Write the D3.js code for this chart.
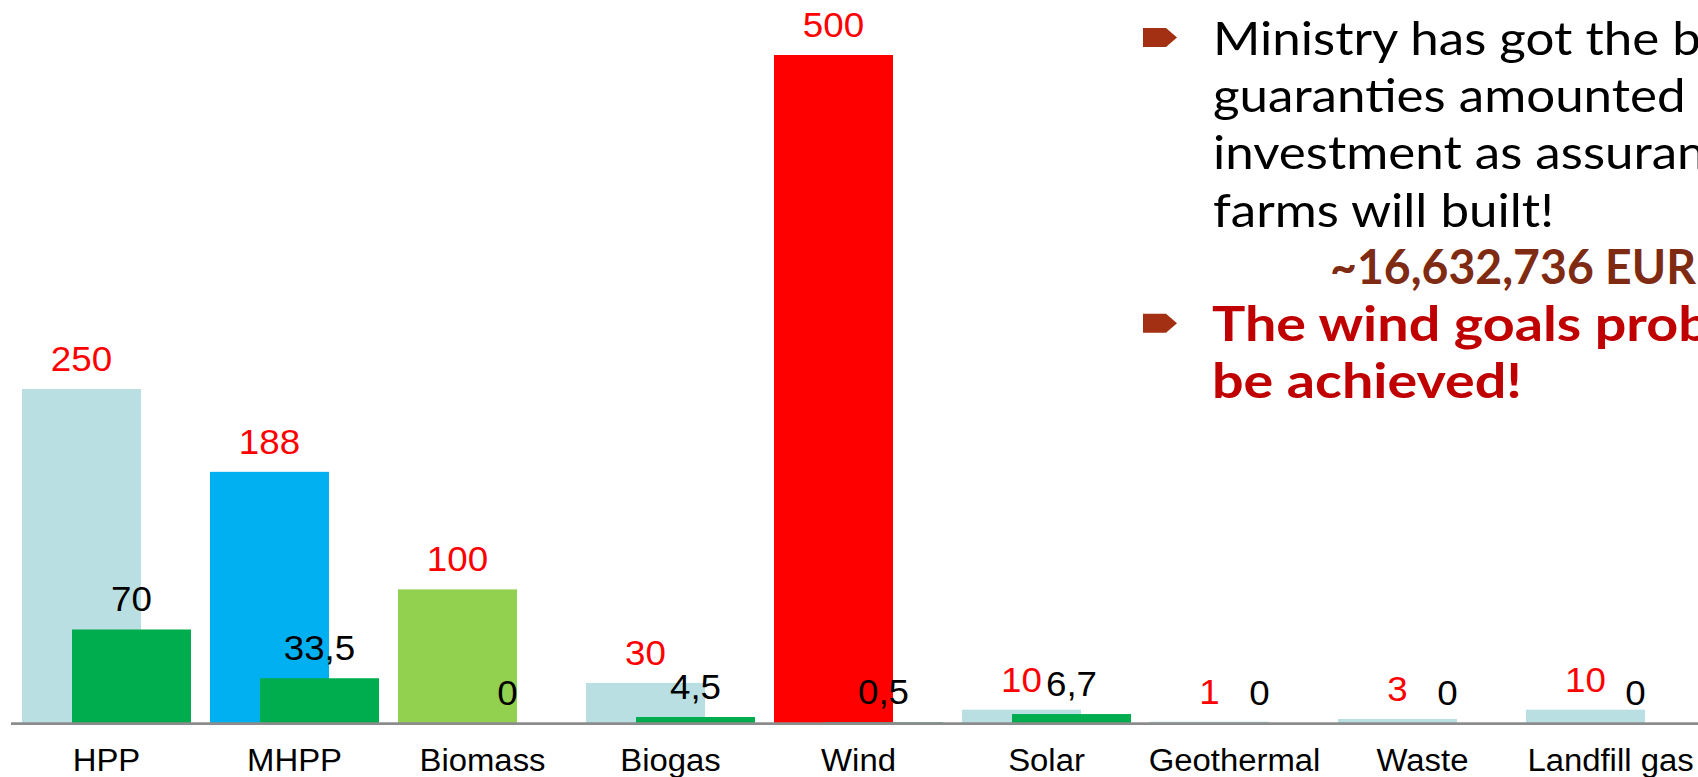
<!DOCTYPE html>
<html>
<head>
<meta charset="utf-8">
<script src="https://cdn.jsdelivr.net/npm/d3@7"></script>
<style>
  html, body { margin: 0; padding: 0; background: #ffffff; overflow: hidden; }
  svg { display: block; }
</style>
</head>
<body>
<svg id="chart" width="1698" height="777"></svg>
<script>
// Renewable capacity by technology: planned target vs. achieved (MW)
const categories = ["HPP", "MHPP", "Biomass", "Biogas", "Wind", "Solar", "Geothermal", "Waste", "Landfill gas"];
const planned    = [250, 188, 100, 30, 500, 10, 1, 3, 10];
const achieved   = [70, 33.5, 0, 4.5, 0.5, 6.7, 0, 0, 0];
const seriesKeys = ["planned", "achieved"];

// Bullet points shown beside the chart
const noteLines = [
  { bullet: true,  text: "Ministry has got the bank", kind: "body" },
  { bullet: false, text: "guaranties amounted", kind: "body" },
  { bullet: false, text: "investment as assurance", kind: "body" },
  { bullet: false, text: "farms will built!", kind: "body" },
  { bullet: false, text: "~16,632,736 EUR", kind: "amount" },
  { bullet: true,  text: "The wind goals probably", kind: "alert" },
  { bullet: false, text: "be achieved!", kind: "alert" }
];

const W = 1698, H = 777;
const svg = d3.select("#chart");

// Highlighted planned bars; the rest use the pale default
const plannedColor = d3.scaleOrdinal()
  .domain(["MHPP", "Biomass", "Wind"])
  .range(["#00B0F0", "#92D050", "#FF0000"])
  .unknown("#BADFE2");
const achievedColor = "#00AD4E";

const rows = categories.map((c, i) => ({ cat: c, planned: planned[i], achieved: achieved[i] }));

// Scales
const step = 188, gap = 19, left = 22;
const x = d3.scaleBand()
  .domain(categories)
  .range([left, left + categories.length * step - gap])
  .paddingInner(gap / step)
  .paddingOuter(0);
const barW = 119;
const xSub = d3.scalePoint().domain(seriesKeys).range([0, x.bandwidth() - barW]);
const y = d3.scaleLinear().domain([0, 500]).range([723, 55]);

const locale = d3.formatLocale({ decimal: ",", thousands: ".", grouping: [3], currency: ["", ""] });
const fmt = locale.format("~g");

const chartFont = "'Liberation Sans', Arial, sans-serif";
const stretch = 1.05;

// Bars
const groups = svg.append("g").selectAll("g")
  .data(rows).join("g")
  .attr("transform", d => `translate(${x(d.cat)},0)`);

groups.append("rect")
  .attr("x", xSub("planned"))
  .attr("y", d => y(d.planned))
  .attr("width", barW)
  .attr("height", d => y(0) - y(d.planned))
  .attr("fill", d => plannedColor(d.cat));

groups.append("rect")
  .attr("x", xSub("achieved"))
  .attr("y", d => y(d.achieved))
  .attr("width", barW)
  .attr("height", d => y(0) - y(d.achieved))
  .attr("fill", achievedColor);

// Baseline
svg.append("line")
  .attr("x1", 11).attr("x2", W)
  .attr("y1", y(0) + 0.6).attr("y2", y(0) + 0.6)
  .attr("stroke", "#8C8C8C").attr("stroke-width", 2.6);

// Value labels
groups.append("text")
  .attr("transform", d => `translate(${xSub("planned") + barW / 2},${y(d.planned) - 18}) scale(${stretch},1)`)
  .attr("text-anchor", "middle")
  .attr("font-family", chartFont)
  .attr("font-size", 35)
  .attr("fill", "#FF0000")
  .text(d => fmt(d.planned));

groups.append("text")
  .attr("transform", d => `translate(${xSub("achieved") + barW / 2},${y(d.achieved) - 18}) scale(${stretch},1)`)
  .attr("text-anchor", "middle")
  .attr("font-family", chartFont)
  .attr("font-size", 35)
  .attr("fill", "#000000")
  .text(d => fmt(d.achieved));

// Category axis
const xAxis = d3.axisBottom(x).tickSize(0).tickPadding(0);
const axisG = svg.append("g")
  .attr("transform", `translate(0,${y(0)})`)
  .call(xAxis);
axisG.select(".domain").remove();
axisG.selectAll(".tick text")
  .attr("y", 0)
  .attr("dy", null)
  .attr("transform", `translate(0,48) scale(${stretch * 1.01},1)`)
  .attr("font-family", chartFont)
  .attr("font-size", 31)
  .attr("fill", "#000000");

// Notes
const noteFont = "Lato, 'Open Sans', sans-serif";
const noteStyle = {
  body:   { weight: 400, color: "#000000", x: 1213 },
  amount: { weight: 700, color: "#7F2A12", x: 1330 },
  alert:  { weight: 700, color: "#C00000", x: 1212 }
};
const lineY = d3.scaleLinear().domain([0, noteLines.length - 1]).range([55, 398]);

const notes = svg.append("g");
const noteText = notes.selectAll("text")
  .data(noteLines).join("text")
  .attr("font-family", noteFont)
  .attr("font-size", 47)
  .attr("font-weight", d => noteStyle[d.kind].weight)
  .attr("fill", d => noteStyle[d.kind].color)
  .text(d => d.text);

// Horizontal fit of each text style to the column widths
const nodes = noteText.nodes();
const sx = {
  body:   341 / nodes[3].getComputedTextLength(),
  amount: 366 / nodes[4].getComputedTextLength(),
  alert:  310 / nodes[6].getComputedTextLength()
};
noteText.attr("transform", (d, i) =>
  `translate(${noteStyle[d.kind].x},${lineY(i)}) scale(${sx[d.kind]},1)`);

// Arrow bullets
const bulletPath = "M0,-9.5 L23,-9.5 L34,0 L23,9.5 L0,9.5 Z";
notes.selectAll("path.bullet")
  .data(noteLines.map((d, i) => ({ ...d, i })).filter(d => d.bullet))
  .join("path")
  .attr("class", "bullet")
  .attr("d", bulletPath)
  .attr("transform", d => `translate(1143,${lineY(d.i) - 17.5})`)
  .attr("fill", "#A33012");
</script>
</body>
</html>
